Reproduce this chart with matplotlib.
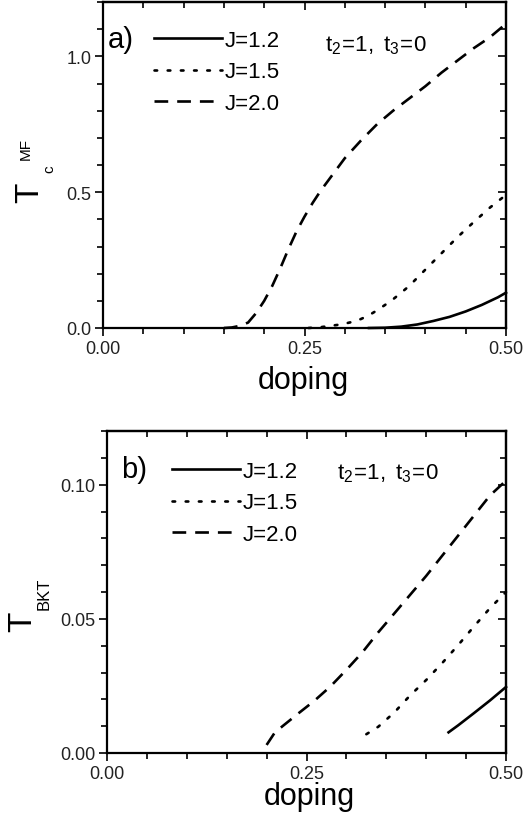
import matplotlib
matplotlib.use('Agg')
import matplotlib.pyplot as plt
from matplotlib.ticker import MultipleLocator, NullFormatter, FormatStrFormatter

plt.rcParams['font.family'] = ['Liberation Sans', 'DejaVu Sans']
plt.rcParams['mathtext.fontset'] = 'custom'
plt.rcParams['mathtext.rm'] = 'Liberation Sans'
plt.rcParams['mathtext.it'] = 'Liberation Sans:italic'

# ---------------- data: panel a (mean-field Tc) ----------------
a_x_J12 = [0.33, 0.35, 0.37, 0.39, 0.41, 0.43, 0.45, 0.47, 0.49, 0.50]
a_y_J12 = [0.0, 0.001, 0.005, 0.013, 0.026, 0.041, 0.061, 0.085, 0.113, 0.13]

a_x_J15 = [0.255, 0.27, 0.28, 0.29, 0.30, 0.31, 0.32, 0.33, 0.34, 0.35, 0.36,
           0.37, 0.38, 0.40, 0.42, 0.44, 0.46, 0.48, 0.50]
a_y_J15 = [0.0, 0.003, 0.007, 0.011, 0.016, 0.023, 0.033, 0.047, 0.065, 0.085,
           0.106, 0.13, 0.155, 0.215, 0.275, 0.335, 0.39, 0.443, 0.49]

a_x_J20 = [0.15, 0.16, 0.17, 0.18, 0.19, 0.20, 0.21, 0.22, 0.23, 0.24, 0.25,
           0.26, 0.27, 0.28, 0.29, 0.30, 0.32, 0.34, 0.36, 0.38, 0.40, 0.42,
           0.44, 0.46, 0.48, 0.50]
a_y_J20 = [0.0, 0.002, 0.008, 0.02, 0.055, 0.10, 0.155, 0.22, 0.29, 0.355, 0.41,
           0.46, 0.505, 0.545, 0.585, 0.625, 0.69, 0.75, 0.80, 0.845, 0.89, 0.94,
           0.985, 1.03, 1.07, 1.12]

# ---------------- data: panel b (BKT temperature) ----------------
b_x_J12 = [0.428, 0.44, 0.46, 0.48, 0.50]
b_y_J12 = [0.0077, 0.0103, 0.0149, 0.0196, 0.0246]

b_x_J15 = [0.325, 0.34, 0.36, 0.38, 0.40, 0.42, 0.44, 0.46, 0.48, 0.50]
b_y_J15 = [0.007, 0.0098, 0.0151, 0.0215, 0.0272, 0.0335, 0.0402, 0.0472, 0.054, 0.060]

b_x_J20 = [0.20, 0.21, 0.22, 0.24, 0.26, 0.28, 0.30, 0.32, 0.34, 0.36, 0.38,
           0.40, 0.42, 0.44, 0.46, 0.48, 0.50]
b_y_J20 = [0.003, 0.0075, 0.0100, 0.0148, 0.0195, 0.0248, 0.031, 0.0375, 0.045,
           0.052, 0.059, 0.066, 0.0735, 0.081, 0.0885, 0.096, 0.1015]

labels = ['J=1.2', 'J=1.5', 'J=2.0']

W, H = 524, 829
fig = plt.figure(figsize=(W / 100, H / 100), dpi=100)


def px_axes(l, t, r, b):
    return fig.add_axes([l / W, 1 - b / H, (r - l) / W, (b - t) / H])


LW = 1.9
styles = [dict(ls='-'), dict(ls=(0, (1.0, 4.0)), dash_capstyle='round'),
          dict(ls=(0, (5.2, 3.4)))]


def style_axes(ax, ylim, ymaj, ymin, yfmt):
    ax.set_xlim(0, 0.5)
    ax.set_ylim(*ylim)
    for s in ax.spines.values():
        s.set_linewidth(1.6)
    ax.xaxis.set_major_locator(MultipleLocator(0.25))
    ax.xaxis.set_minor_locator(MultipleLocator(0.05))
    ax.yaxis.set_major_locator(MultipleLocator(ymaj))
    ax.yaxis.set_minor_locator(MultipleLocator(ymin))
    ax.xaxis.set_major_formatter(FormatStrFormatter('%.2f'))
    ax.yaxis.set_major_formatter(FormatStrFormatter(yfmt))
    ax.tick_params(which='major', direction='out', length=6, width=1.2,
                   labelsize=13, pad=2.5, colors='black')
    ax.tick_params(which='minor', direction='out', length=4, width=1.2)
    ax.tick_params(which='major', labelcolor='#222222')
    sx = ax.secondary_xaxis('top')
    sx.xaxis.set_major_locator(MultipleLocator(0.25))
    sx.xaxis.set_minor_locator(MultipleLocator(0.05))
    sx.xaxis.set_major_formatter(NullFormatter())
    sx.tick_params(which='major', direction='in', length=6, width=1.2)
    sx.tick_params(which='minor', direction='in', length=4, width=1.2)
    sy = ax.secondary_yaxis('right')
    sy.yaxis.set_major_locator(MultipleLocator(ymaj))
    sy.yaxis.set_minor_locator(MultipleLocator(ymin))
    sy.yaxis.set_major_formatter(NullFormatter())
    sy.tick_params(which='major', direction='in', length=6, width=1.2)
    sy.tick_params(which='minor', direction='in', length=4, width=1.2)
    for s in list(sx.spines.values()) + list(sy.spines.values()):
        s.set_linewidth(1.6)


# ---------------- panel a ----------------
axa = px_axes(103, 3, 506, 329)
for xs, ys, st, lab in zip([a_x_J12, a_x_J15, a_x_J20], [a_y_J12, a_y_J15, a_y_J20],
                           styles, labels):
    axa.plot(xs, ys, color='black', lw=LW, label=lab, clip_on=False, **st)
style_axes(axa, (0, 1.2), 0.5, 0.1, '%.1f')

# ---------------- panel b ----------------
axb = px_axes(107, 432, 506, 754)
for xs, ys, st, lab in zip([b_x_J12, b_x_J15, b_x_J20], [b_y_J12, b_y_J15, b_y_J20],
                           styles, labels):
    axb.plot(xs, ys, color='black', lw=LW, label=lab, clip_on=False, **st)
style_axes(axb, (0, 0.12), 0.05, 0.01, '%.2f')

for ax, panel, (lx, ly), (hx, hy), (tx, ty) in [
        (axa, 'a)', (108, 40), (154, 31), (325, 46)),
        (axb, 'b)', (121, 470), (172, 462), (337, 474))]:
    bb = ax.get_position()
    l0, t0 = bb.x0 * W, (1 - bb.y1) * H
    wpx, hpx = bb.width * W, bb.height * H
    leg = ax.legend(loc='upper left', bbox_to_anchor=((hx - l0) / wpx, 1 - (hy - t0) / hpx),
                    frameon=False, fontsize=16, handlelength=3.05, handletextpad=0.13,
                    labelspacing=0.47, borderpad=0, borderaxespad=0)
    fig.text(lx / W, 1 - ly / H, panel, fontsize=21, ha='left', va='center')
    fig.text(tx / W, 1 - ty / H, r'$\mathregular{t_2\!=\!1,\ t_3\!=\!0}$', fontsize=16,
             ha='left', va='center')

# axis titles
fig.text(303 / W, 1 - 381 / H, 'doping', fontsize=22, ha='center', va='center')
fig.text(309 / W, 1 - 797 / H, 'doping', fontsize=22, ha='center', va='center')

fig.text(30 / W, 1 - 193 / H, 'T', fontsize=24, rotation=90, ha='center', va='center')
fig.text(49 / W, 1 - 169 / H, 'c', fontsize=11, rotation=90, ha='center', va='center')
fig.text(25.5 / W, 1 - 148.5 / H, 'MF', fontsize=11, rotation=90, ha='center', va='center')

fig.text(22.5 / W, 1 - 622 / H, 'T', fontsize=24, rotation=90, ha='center', va='center')
fig.text(44 / W, 1 - 594 / H, 'BKT', fontsize=12, rotation=90, ha='center', va='center')

fig.savefig('out.png', dpi=100)
